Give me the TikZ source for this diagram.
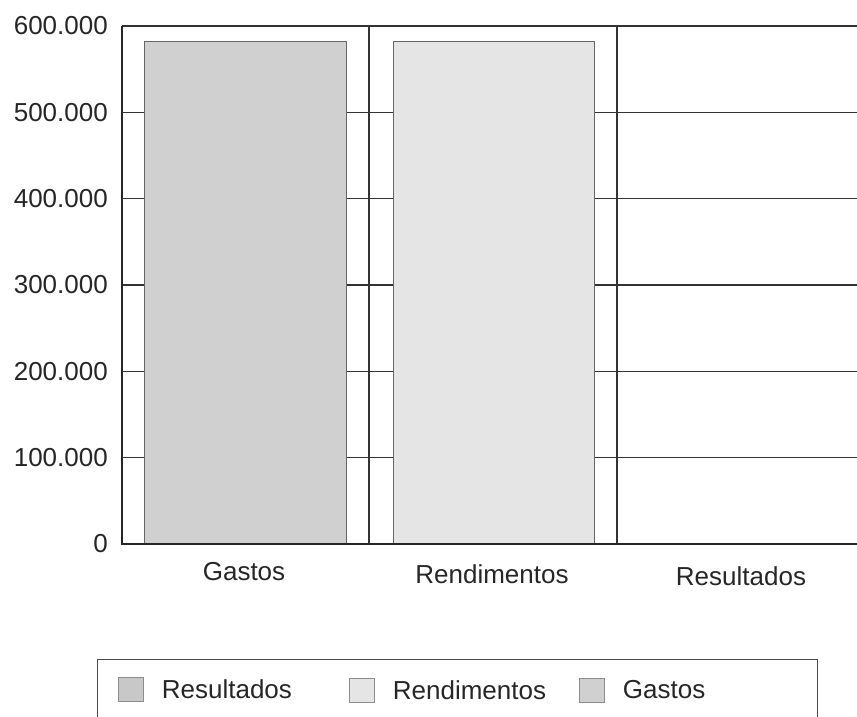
\documentclass[tikz,border=0pt]{standalone}
\usepackage{fontspec}
\setmainfont{Liberation Sans}
\usepackage{tikz}
\usetikzlibrary{positioning}
\definecolor{gastosgray}{RGB}{208,208,208}
\definecolor{rendgray}{RGB}{229,229,229}
\definecolor{resulgray}{RGB}{200,200,200}

\begin{document}
\begin{tikzpicture}[x=1pt, y=-1pt, font=\fontsize{26}{30}\selectfont, node distance=18pt]
% Define styles
\tikzstyle{grid} = [line width=1.3pt, draw=black!80]
\tikzstyle{axis} = [line width=2pt, draw=black!85]
\tikzstyle{bar} = [line width=0.8pt, draw=black!60]
\tikzstyle{ylab} = [anchor=east, inner sep=0pt, text=black!85]
\tikzstyle{xlab} = [inner sep=0pt, text=black!85]
\tikzstyle{swatch} = [rectangle, draw=black!45, minimum width=25pt, minimum height=24pt, inner sep=0pt]
\tikzstyle{legtext} = [anchor=west, inner sep=0pt, text=black!85]
\tikzstyle{legbox} = [line width=1pt, draw=black!70]
\useasboundingbox (0,0) rectangle (857,717);
% Grid lines
\foreach \v in {1,...,6}
  \draw [grid] (122,{544-86.33*\v}) -- (857,{544-86.33*\v});
\draw [grid] (369,26) -- (369,544);
\draw [grid] (617,26) -- (617,544);
% Bars
\draw [bar, fill=gastosgray] (144,544) rectangle (346,41.5);
\draw [bar, fill=rendgray] (393,544) rectangle (594,41.5);
% Axes
\draw [axis] (122,26) -- (122,544) -- (857,544);
% Y labels
\node (y0) [ylab] at (108,544) {0};
\node (y1) [ylab] at (108,{544-86.33}) {100.000};
\node (y2) [ylab] at (108,{544-86.33*2}) {200.000};
\node (y3) [ylab] at (108,{544-86.33*3}) {300.000};
\node (y4) [ylab] at (108,{544-86.33*4}) {400.000};
\node (y5) [ylab] at (108,{544-86.33*5}) {500.000};
\node (y6) [ylab] at (108,{544-86.33*6}) {600.000};
% Category labels
\node (gastos) [xlab] at (244,572) {Gastos};
\node (rend) [xlab] at (492,574) {Rendimentos};
\node (result) [xlab] at (741,576) {Resultados};
% Legend
\draw [legbox] (97,717) -- (97,659) -- (817,659) -- (817,717);
\node (swres) [swatch, fill=resulgray] at (131,689) {};
\node (lres) [legtext, right=of swres] {Resultados};
\node (swrend) [swatch, fill=rendgray] at (362,690) {};
\node (lrend) [legtext, right=of swrend] {Rendimentos};
\node (swgas) [swatch, fill=gastosgray] at (592,690) {};
\node (lgas) [legtext, right=of swgas] {Gastos};
\end{tikzpicture}
\end{document}
